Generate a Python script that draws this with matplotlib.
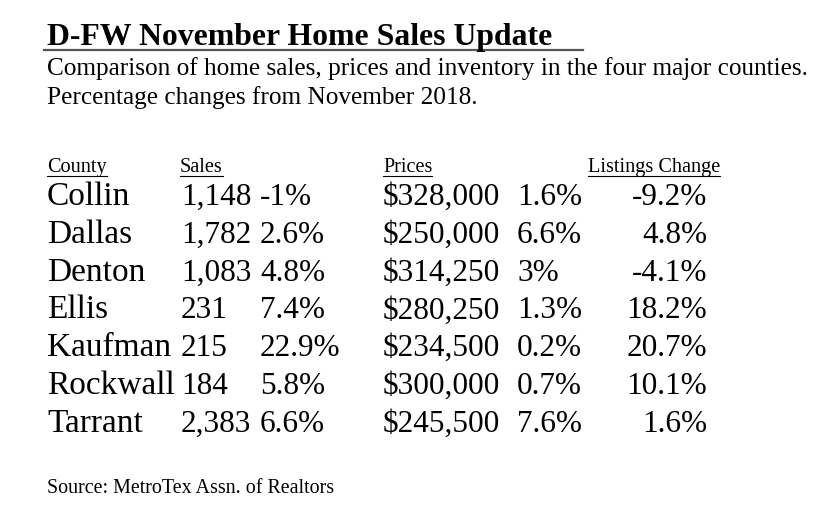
import matplotlib.pyplot as plt

# table content
counties = ["Collin", "Dallas", "Denton", "Ellis", "Kaufman", "Rockwall", "Tarrant"]
sales = ["1,148", "1,782", "1,083", "231", "215", "184", "2,383"]
sales_chg = ["-1%", "2.6%", "4.8%", "7.4%", "22.9%", "5.8%", "6.6%"]
prices = ["$328,000", "$250,000", "$314,250", "$280,250", "$234,500", "$300,000", "$245,500"]
price_chg = ["1.6%", "6.6%", "3%", "1.3%", "0.2%", "0.7%", "7.6%"]
listings_chg = ["-9.2%", "4.8%", "-4.1%", "18.2%", "20.7%", "10.1%", "1.6%"]
headers = ["County", "Sales", "Prices", "Listings Change"]

title = "D-FW November Home Sales Update"
subtitle = ["Comparison of home sales, prices and inventory in the four major counties.",
            "Percentage changes from November 2018."]
source = "Source: MetroTex Assn. of Realtors"

plt.rcParams['font.family'] = ['Liberation Serif', 'DejaVu Serif']

fig = plt.figure(figsize=(8.3, 5.3), dpi=100)
ax = fig.add_axes([0, 0, 1, 1])
ax.set_xlim(0, 830)
ax.set_ylim(530, 0)
ax.axis('off')

ax.text(47, 45, title, fontsize=22.9, fontweight='bold', va='baseline')
ax.plot([44, 583], [49.5, 49.5], color='#555555', lw=1.6)
for k, line in enumerate(subtitle):
    ax.text(47, 75 + 29 * k, line, fontsize=18.2, va='baseline')

# header row with underlines
fig.canvas.draw()
renderer = fig.canvas.get_renderer()
head_x = [47, 180, 383, 588]
for hx, h in zip(head_x, headers):
    t = ax.text(hx, 172, h, fontsize=14.6, va='baseline')
    bb = t.get_window_extent(renderer)
    ax.plot([hx, hx + bb.width], [176, 176], color='black', lw=0.8)

row_y0, row_step = 205, 37.8
fs_name, fs_num = 24, 22.5
for i in range(len(counties)):
    y = row_y0 + i * row_step
    ax.text(47, y, counties[i], fontsize=fs_name, va='baseline')
    ax.text(181, y, sales[i], fontsize=fs_num, va='baseline')
    ax.text(260, y, sales_chg[i], fontsize=fs_num, va='baseline')
    ax.text(383, y, prices[i], fontsize=fs_num, va='baseline')
    ax.text(517, y, price_chg[i], fontsize=fs_num, va='baseline')
    ax.text(707, y, listings_chg[i], fontsize=fs_num, va='baseline', ha='right')

ax.text(47, 493, source, fontsize=14.4, va='baseline')

fig.savefig('out.png', dpi=100, facecolor='white')
